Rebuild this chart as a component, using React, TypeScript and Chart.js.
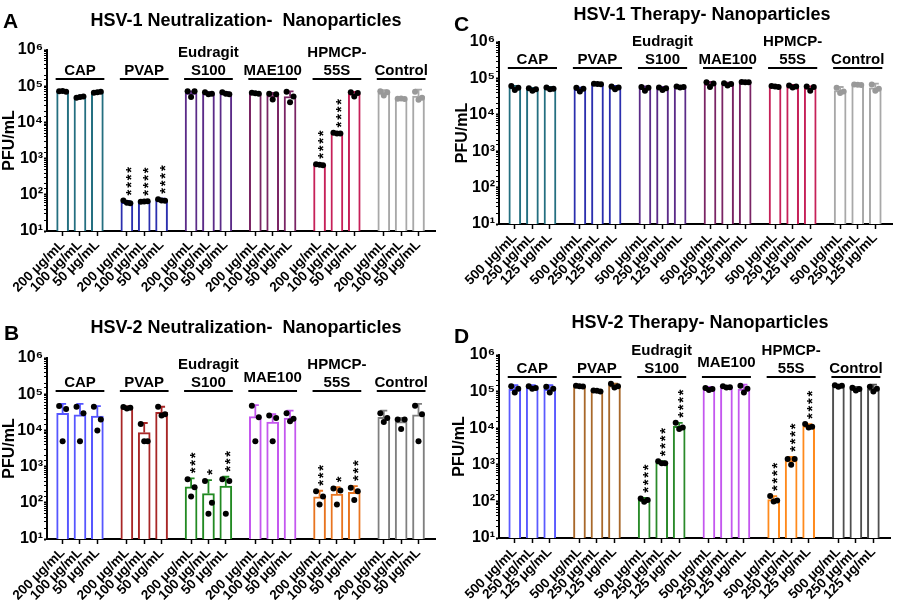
import React, { useEffect, useRef } from "react";
import { Chart, registerables } from "chart.js";

Chart.register(...registerables);

const FONT = 'Arial, "Liberation Sans", Helvetica, sans-serif';

// ---------- categories / labels ----------
const GROUP_LABELS = [["CAP"], ["PVAP"], ["Eudragit", "S100"], ["MAE100"], ["HPMCP-", "55S"], ["Control"]];
const NEUT_DOSES = ["200 μg/mL", "100 μg/mL", "50 μg/mL"];
const THER_DOSES = ["500 μg/mL", "250 μg/mL", "125 μg/mL"];
const Y_TICK_LABELS = ["10¹", "10²", "10³", "10⁴", "10⁵", "10⁶"];
const Y_TITLE = "PFU/mL";

const TITLE_A = "HSV-1 Neutralization-  Nanoparticles";
const TITLE_B = "HSV-2 Neutralization-  Nanoparticles";
const TITLE_C = "HSV-1 Therapy- Nanoparticles";
const TITLE_D = "HSV-2 Therapy- Nanoparticles";

// ---------- Panel A: HSV-1 neutralization ----------
const A_MEAN = [72000, 50000, 68000, 62, 65, 72, 65000, 63000, 63000, 64000, 55000, 52000, 680, 5000, 62000, 65000, 45000, 53000];
const A_ERR = [75000, 53000, 72000, 68, 68, 78, 72000, 68000, 68000, 66000, 65000, 72000, 720, 5300, 70000, 78000, 46000, 80000];
const A_PTS = [
  [72000, 70000, 74000], [48000, 52000, 50000], [66000, 70000, 68000],
  [70, 58, 60], [64, 66, 65], [75, 68, 70],
  [72000, 72000, 50000], [68000, 62000, 60000], [68000, 60000, 62000],
  [66000, 62000, 64000], [62000, 60000, 43000], [70000, 52000, 36000],
  [700, 660, 680], [5200, 4900, 4900], [68000, 65000, 52000],
  [72000, 68000, 55000], [45000, 44000, 46000], [70000, 48000, 42000],
];
const A_STARS = ["", "", "", "****", "****", "****", "", "", "", "", "", "", "****", "****", "", "", "", ""];

// ---------- Panel B: HSV-2 neutralization ----------
const B_MEAN = [29500, 27000, 25000, 43000, 8700, 31500, 275, 180, 290, 24000, 17000, 22000, 147, 175, 195, 23000, 17500, 27000];
const B_ERR = [54000, 54000, 47000, 46000, 16000, 45000, 475, 425, 525, 50000, 28000, 35000, 215, 270, 290, 35000, 22000, 54000];
const B_PTS = [
  [47000, 39000, 5000], [45000, 30000, 5000], [45000, 20000, 10000],
  [44000, 42000, 40000], [15000, 5000, 5000], [45000, 28000, 26000],
  [450, 270, 150], [400, 100, 50], [450, 400, 50],
  [48000, 23000, 5000], [26000, 22000, 5000], [30000, 21000, 18000],
  [210, 150, 90], [250, 220, 90], [260, 210, 120],
  [30000, 22000, 17000], [20000, 20000, 11000], [48000, 28000, 5000],
];
const B_STARS = ["", "", "", "", "", "", "***", "*", "***", "", "", "", "***", "*", "***", "", "", ""];

// ---------- Panel C: HSV-1 therapy ----------
const C_MEAN = [56000, 50000, 53000, 50000, 70000, 56000, 53000, 53000, 58000, 70000, 70000, 79000, 60000, 60000, 55000, 46000, 67000, 55000];
const C_ERR = [62000, 55000, 58000, 56000, 72000, 62000, 60000, 58000, 61000, 80000, 76000, 82000, 64000, 66000, 60000, 58000, 69000, 72000];
const C_PTS = [
  [62000, 55000, 48000], [54000, 50000, 46000], [56000, 52000, 50000],
  [55000, 52000, 44000], [71000, 69000, 70000], [60000, 56000, 50000],
  [58000, 55000, 46000], [56000, 54000, 48000], [60000, 58000, 56000],
  [78000, 72000, 58000], [74000, 70000, 64000], [80000, 78000, 79000],
  [62000, 58000, 60000], [64000, 60000, 56000], [60000, 58000, 46000],
  [55000, 44000, 40000], [68000, 66000, 67000], [68000, 52000, 46000],
];
const C_STARS = ["", "", "", "", "", "", "", "", "", "", "", "", "", "", "", "", "", ""];

// ---------- Panel D: HSV-2 therapy ----------
const D_MEAN = [115000, 128000, 115000, 140000, 105000, 145000, 108, 1150, 11200, 118000, 135000, 118000, 112, 1300, 11500, 145000, 118000, 118000];
const D_ERR = [150000, 150000, 150000, 145000, 110000, 165000, 125, 1250, 14000, 135000, 140000, 155000, 140, 1650, 13000, 155000, 135000, 155000];
const D_PTS = [
  [140000, 120000, 95000], [140000, 125000, 120000], [135000, 120000, 95000],
  [145000, 138000, 140000], [108000, 100000, 105000], [165000, 140000, 130000],
  [120, 110, 98], [1250, 1100, 1100], [14000, 10500, 9500],
  [125000, 118000, 110000], [140000, 132000, 130000], [145000, 120000, 95000],
  [140, 105, 100], [1450, 1450, 1000], [13000, 11000, 10500],
  [150000, 145000, 135000], [128000, 118000, 108000], [135000, 120000, 100000],
];
const D_STARS = ["", "", "", "", "", "", "****", "****", "****", "", "", "", "****", "****", "****", "", "", ""];

// ---------- styles ----------
const COLORS_HSV1 = ["#246f80", "#2b2fae", "#5b2b88", "#7a2464", "#c62058", "#a8a8a8"];
const COLORS_B = ["#5656ff", "#a82626", "#228a22", "#c457ef", "#e8741f", "#7f7f7f"];
const COLORS_D = ["#5a5aff", "#a8682a", "#2a8a2a", "#c457ef", "#ff8a1c", "#4f4f4f"];
const DOTS_HSV1 = ["#000", "#000", "#000", "#000", "#000", "#999999"];
const DOTS_HSV2 = ["#000", "#000", "#000", "#000", "#000", "#000"];

const GROUP_STRIDE = 3.7;
const JITTER = [-0.2, 0.2, 0];
const X_MIN = -0.9;
const X_MAX = 21.45;

const PANELS = [
  {
    letter: "A", title: TITLE_A, doses: NEUT_DOSES, mean: A_MEAN, err: A_ERR, pts: A_PTS, stars: A_STARS,
    colors: COLORS_HSV1, dots: DOTS_HSV1,
    left: 0, top: 0, w: 450, h: 300, area: { l: 47, r: 435, t: 50, b: 231 }, padLeft: 0,
    titleX: 246, titleY: 26, letterX: 3, letterY: 28, lineY: 79, lift: [0, 0, 0, 0, 0, 0],
  },
  {
    letter: "C", title: TITLE_C, doses: THER_DOSES, mean: C_MEAN, err: C_ERR, pts: C_PTS, stars: C_STARS,
    colors: COLORS_HSV1, dots: DOTS_HSV1,
    left: 450, top: 0, w: 449, h: 300, area: { l: 49, r: 442, t: 42, b: 224 }, padLeft: 3,
    titleX: 252, titleY: 20, letterX: 4, letterY: 31, lineY: 68, lift: [0, 0, 0, 0, 0, 0],
  },
  {
    letter: "B", title: TITLE_B, doses: NEUT_DOSES, mean: B_MEAN, err: B_ERR, pts: B_PTS, stars: B_STARS,
    colors: COLORS_B, dots: DOTS_HSV2,
    left: 0, top: 300, w: 450, h: 300, area: { l: 47, r: 435, t: 58, b: 239 }, padLeft: 0,
    titleX: 246, titleY: 33, letterX: 4, letterY: 40, lineY: 91, lift: [0, 0, 0, 5, 0, 0],
  },
  {
    letter: "D", title: TITLE_D, doses: THER_DOSES, mean: D_MEAN, err: D_ERR, pts: D_PTS, stars: D_STARS,
    colors: COLORS_D, dots: DOTS_HSV2,
    left: 450, top: 300, w: 449, h: 300, area: { l: 49, r: 440, t: 55, b: 238 }, padLeft: 0,
    titleX: 250, titleY: 28, letterX: 4, letterY: 43, lineY: 77, lift: [0, 0, 0, 6, 0, 0],
  },
];

function barPositions() {
  const xs: number[] = [];
  for (let g = 0; g < GROUP_LABELS.length; g++) for (let b = 0; b < 3; b++) xs.push(g * GROUP_STRIDE + b);
  return xs;
}

function decoPlugin(spec: any, xs: number[]) {
  return {
    id: "deco" + spec.letter,
    afterDatasetDraw(chart: any, args: any) {
      if (args.index !== 0) return;
      const { ctx } = chart;
      const x = chart.scales.x, y = chart.scales.y;
      ctx.save();
      ctx.lineWidth = 1.8;
      spec.err.forEach((top: number, i: number) => {
        const px = x.getPixelForValue(xs[i]);
        const y0 = y.getPixelForValue(spec.mean[i]);
        const y1 = y.getPixelForValue(top);
        ctx.strokeStyle = spec.colors[Math.floor(i / 3)];
        ctx.beginPath();
        ctx.moveTo(px, y0);
        ctx.lineTo(px, y1);
        ctx.moveTo(px - 3.5, y1);
        ctx.lineTo(px + 3.5, y1);
        ctx.stroke();
      });
      ctx.restore();
    },
    afterDraw(chart: any) {
      const { ctx } = chart;
      const x = chart.scales.x, y = chart.scales.y;
      ctx.save();
      ctx.fillStyle = "#000";
      // title
      ctx.font = `bold 18px ${FONT}`;
      ctx.textAlign = "center";
      ctx.textBaseline = "alphabetic";
      ctx.fillText(spec.title, spec.titleX, spec.titleY);
      // panel letter
      ctx.font = `bold 21px ${FONT}`;
      ctx.textAlign = "left";
      ctx.fillText(spec.letter, spec.letterX, spec.letterY);
      // group labels + lines
      ctx.font = `bold 15px ${FONT}`;
      ctx.textAlign = "center";
      ctx.strokeStyle = "#000";
      ctx.lineWidth = 2;
      GROUP_LABELS.forEach((lines, g) => {
        const x0 = x.getPixelForValue(xs[g * 3]);
        const x2 = x.getPixelForValue(xs[g * 3 + 2]);
        const cx = (x0 + x2) / 2;
        ctx.beginPath();
        ctx.moveTo(x0 - 7, spec.lineY);
        ctx.lineTo(x2 + 7, spec.lineY);
        ctx.stroke();
        const base = spec.lineY - 4.5 - spec.lift[g];
        lines.forEach((t: string, k: number) => {
          ctx.fillText(t, cx, base - (lines.length - 1 - k) * 18);
        });
      });
      // significance stars (vertical)
      const fs = 15;
      ctx.font = `bold ${fs}px ${FONT}`;
      spec.stars.forEach((s: string, i: number) => {
        if (!s) return;
        const px = x.getPixelForValue(xs[i]);
        const topVal = Math.max(spec.err[i], ...spec.pts[i]);
        const markTop = y.getPixelForValue(topVal) - 3;
        ctx.save();
        ctx.translate(px, markTop - 2);
        ctx.rotate(-Math.PI / 2);
        (ctx as any).letterSpacing = "1.7px";
        ctx.textAlign = "left";
        ctx.textBaseline = "alphabetic";
        ctx.fillText(s, 0, fs * 0.58);
        ctx.restore();
      });
      ctx.restore();
    },
  };
}

function buildConfig(spec: any): any {
  const xs = barPositions();
  const barColors = xs.map((_, i) => spec.colors[Math.floor(i / 3)]);
  const ptData: { x: number; y: number }[] = [];
  const ptColors: string[] = [];
  spec.pts.forEach((trip: number[], i: number) => {
    trip.forEach((v, j) => {
      ptData.push({ x: xs[i] + JITTER[j], y: v });
      ptColors.push(spec.dots[Math.floor(i / 3)]);
    });
  });
  const tickFont = { family: FONT, size: 13.5, weight: "bold" };
  const isDecade = (v: number) => Math.abs(Math.log10(v) - Math.round(Math.log10(v))) < 1e-6;
  return {
    type: "bar",
    data: {
      datasets: [
        {
          type: "bar",
          data: spec.mean.map((v: number, i: number) => ({ x: xs[i], y: v })),
          backgroundColor: "#ffffff",
          borderColor: barColors,
          borderWidth: 2,
          barThickness: 12,
          borderSkipped: "start",
          order: 2,
        },
        {
          type: "scatter",
          data: ptData,
          pointRadius: 3,
          pointBackgroundColor: ptColors,
          pointBorderWidth: 0,
          order: 1,
        },
      ],
    },
    options: {
      animation: false,
      responsive: false,
      events: [],
      layout: { padding: { left: spec.padLeft, top: spec.area.t, right: spec.w - spec.area.r, bottom: 0 } },
      plugins: { legend: { display: false }, title: { display: false }, tooltip: { enabled: false } },
      scales: {
        x: {
          type: "linear",
          offset: false,
          min: X_MIN,
          max: X_MAX,
          afterBuildTicks: (axis: any) => {
            axis.ticks = xs.map((v) => ({ value: v }));
          },
          afterFit: (s: any) => {
            s.height = spec.h - spec.area.b;
            s.paddingLeft = 0;
            s.paddingRight = 0;
          },
          ticks: {
            autoSkip: false,
            minRotation: 45,
            maxRotation: 45,
            color: "#000",
            font: tickFont,
            padding: 1,
            callback: (_v: any, i: number) => spec.doses[i % 3],
          },
          grid: { display: true, offset: false, drawOnChartArea: false, drawTicks: true, tickLength: 5, tickColor: "#000", tickWidth: 1.5 },
          border: { display: true, color: "#000", width: 2 },
        },
        y: {
          type: "logarithmic",
          min: 10,
          max: 1000000,
          afterFit: (s: any) => {
            s.width = spec.area.l - spec.padLeft;
          },
          ticks: {
            autoSkip: false,
            color: "#000",
            font: { family: FONT, size: 16, weight: "bold" },
            padding: 1,
            callback: (v: number) => (isDecade(v) ? Y_TICK_LABELS[Math.round(Math.log10(v)) - 1] : ""),
          },
          grid: {
            display: true,
            drawOnChartArea: false,
            drawTicks: true,
            tickLength: 3,
            tickColor: "#000",
            tickWidth: (c: any) => (c.tick && isDecade(c.tick.value) ? 2 : 1),
          },
          border: { display: true, color: "#000", width: 2 },
          title: { display: true, text: Y_TITLE, color: "#000", font: { family: FONT, size: 16, weight: "bold" }, padding: 0 },
        },
      },
    },
    plugins: [decoPlugin(spec, xs)],
  };
}

function Panel({ spec }: { spec: any }) {
  const ref = useRef<HTMLCanvasElement | null>(null);
  useEffect(() => {
    if (!ref.current) return;
    const chart = new Chart(ref.current, buildConfig(spec));
    return () => chart.destroy();
  }, [spec]);
  return (
    <canvas
      ref={ref}
      width={spec.w}
      height={spec.h}
      style={{ position: "absolute", left: spec.left, top: spec.top, width: spec.w, height: spec.h, display: "block" }}
    />
  );
}

export default function App() {
  return (
    <div style={{ position: "absolute", left: 0, top: 0, width: 899, height: 600, background: "#ffffff", overflow: "hidden" }}>
      {PANELS.map((p) => (
        <Panel key={p.letter} spec={p} />
      ))}
    </div>
  );
}
